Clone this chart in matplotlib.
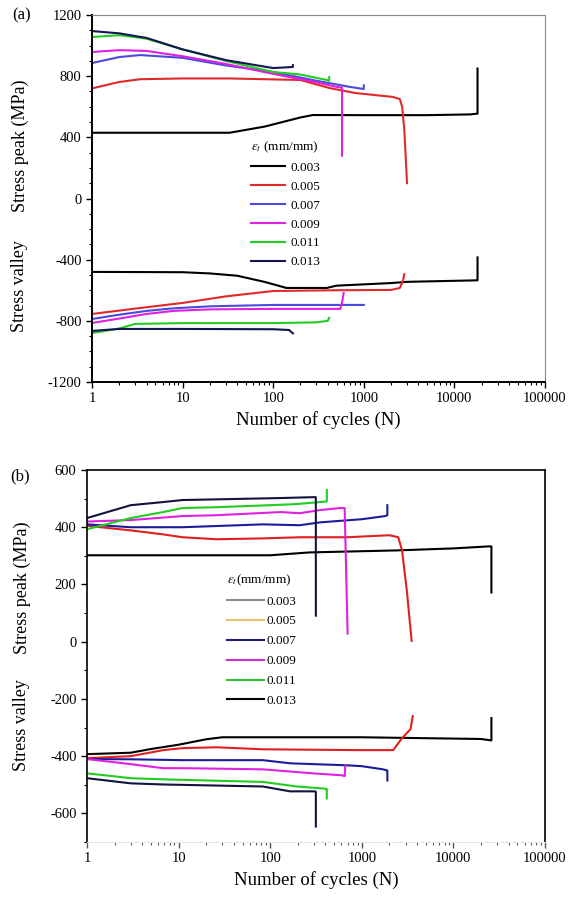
import matplotlib
matplotlib.use("Agg")
import matplotlib.pyplot as plt
from matplotlib.lines import Line2D
from matplotlib.ticker import LogLocator, MultipleLocator, FixedLocator, FixedFormatter, NullFormatter

plt.rcParams['font.family'] = ['Liberation Serif', 'DejaVu Serif']
plt.rcParams['mathtext.fontset'] = 'stix'
plt.rcParams['axes.unicode_minus'] = False

# ---------------- data: panel (a) ----------------
strain_labels = ["0.003", "0.005", "0.007", "0.009", "0.011", "0.013"]

a_N_003 = [1, 10, 33, 80, 200, 275, 1000, 5000, 15000, 18000, 18000]
a_peak_003 = [430, 430, 430, 470, 530, 546, 545, 545, 550, 555, 850]
a_vN_003 = [1, 10, 20, 40, 80, 140, 390, 500, 2000, 3000, 18000, 18000]
a_valley_003 = [-480, -482, -490, -505, -545, -585, -585, -570, -553, -545, -535, -385]

a_N_005 = [1, 2, 3.4, 10, 33, 200, 420, 800, 2100, 2500, 2650, 2800, 3000]
a_peak_005 = [720, 762, 780, 785, 785, 775, 722, 690, 664, 650, 600, 450, 100]
a_vN_005 = [1, 3, 10, 30, 100, 500, 2000, 2500, 2700, 2800]
a_valley_005 = [-755, -720, -683, -640, -605, -600, -598, -585, -540, -495]

a_N_007 = [1, 2, 3.4, 10, 30, 100, 300, 700, 1000, 1000]
a_peak_007 = [886, 925, 938, 920, 870, 827, 770, 730, 716, 740]
a_vN_007 = [1, 2, 4, 8, 20, 100, 1000]
a_valley_007 = [-788, -760, -735, -718, -705, -696, -696]

a_N_009 = [1, 2, 4, 10, 30, 100, 300, 500, 575, 575]
a_peak_009 = [958, 970, 965, 930, 880, 815, 760, 730, 725, 280]
a_vN_009 = [1, 2, 4, 8, 20, 100, 550, 575, 600]
a_valley_009 = [-814, -785, -755, -735, -725, -722, -722, -680, -618]

a_N_011 = [1, 2, 4, 10, 30, 100, 195, 390, 415, 415]
a_peak_011 = [1056, 1068, 1045, 975, 900, 827, 812, 775, 770, 795]
a_vN_011 = [1, 2, 3, 10, 100, 300, 400, 415]
a_valley_011 = [-880, -850, -820, -815, -815, -810, -800, -781]

a_N_013 = [1, 2, 4, 10, 30, 100, 165, 165]
a_peak_013 = [1095, 1080, 1050, 975, 905, 853, 860, 872]
a_vN_013 = [1, 2, 10, 100, 150, 165]
a_valley_013 = [-866, -853, -853, -855, -860, -882]

# ---------------- data: panel (b) ----------------
b_N_003 = [1, 100, 270, 2400, 10000, 24000, 26000, 26000]
b_peak_003 = [302, 302, 312, 319, 326, 333, 333, 172]
b_vN_003 = [1, 3, 5, 10, 20, 30, 1000, 20000, 26000, 26000]
b_valley_003 = [-393, -388, -375, -360, -341, -334, -334, -340, -345, -267]

b_N_005 = [1, 3, 6.8, 11, 26, 83, 210, 690, 2000, 2500, 2750, 3100, 3500]
b_peak_005 = [405, 389, 375, 365, 358, 361, 365, 365, 372, 365, 319, 179, 3]
b_vN_005 = [1, 3, 6.8, 11, 26, 83, 1000, 2200, 2750, 3400, 3600]
b_valley_005 = [-407, -400, -379, -372, -369, -376, -379, -379, -337, -306, -260]

b_N_007 = [1, 3, 11, 83, 210, 350, 1000, 1800, 1900, 1900]
b_peak_007 = [410, 400, 400, 410, 407, 417, 428, 439, 442, 477]
b_vN_007 = [1, 3, 11, 83, 165, 690, 1000, 1700, 1900, 1900]
b_valley_007 = [-410, -411, -414, -414, -425, -432, -435, -446, -450, -485]

b_N_009 = [1, 3, 11, 26, 130, 210, 350, 580, 650, 700]
b_peak_009 = [420, 425, 439, 442, 453, 449, 460, 467, 467, 28]
b_vN_009 = [1, 3, 6.8, 11, 83, 290, 610, 650, 660]
b_valley_009 = [-410, -428, -442, -442, -446, -460, -467, -470, -435]

b_N_011 = [1, 3, 6.8, 11, 26, 100, 195, 350, 415, 415]
b_peak_011 = [393, 432, 453, 467, 470, 477, 481, 488, 490, 530]
b_vN_011 = [1, 3, 6.8, 83, 195, 380, 415, 415]
b_valley_011 = [-460, -477, -481, -490, -506, -513, -515, -548]

b_N_013 = [1, 3, 6.8, 11, 130, 290, 315, 315]
b_peak_013 = [432, 477, 488, 495, 502, 505, 505, 91]
b_vN_013 = [1, 3, 6.8, 83, 165, 310, 315, 315]
b_valley_013 = [-477, -495, -499, -506, -523, -523, -525, -646]

xtick_vals = [1, 10, 100, 1000, 10000, 100000]
xtick_labels = ["1", "10", "100", "1000", "10000", "100000"]

colors_a = ["#000000", "#e02a2a", "#4a4ae0", "#e020e0", "#22cc22", "#141450"]
colors_b = ["#000000", "#e02020", "#1c1c9a", "#e020e0", "#22cc22", "#121240"]
legend_colors_b = ["#8a8a8a", "#e8c070", "#1c1c80", "#d030d0", "#30c030", "#000000"]

W, H = 571, 899
fig = plt.figure(figsize=(W / 100, H / 100), dpi=100)

def ax_rect(l, t, r, b):
    return [l / W, 1 - b / H, (r - l) / W, (b - t) / H]

ax_a = fig.add_axes(ax_rect(92, 15, 545, 382))
ax_b = fig.add_axes(ax_rect(87, 470, 545, 842))

series_a = [
    (a_N_003, a_peak_003, a_vN_003, a_valley_003),
    (a_N_005, a_peak_005, a_vN_005, a_valley_005),
    (a_N_007, a_peak_007, a_vN_007, a_valley_007),
    (a_N_009, a_peak_009, a_vN_009, a_valley_009),
    (a_N_011, a_peak_011, a_vN_011, a_valley_011),
    (a_N_013, a_peak_013, a_vN_013, a_valley_013),
]
series_b = [
    (b_N_003, b_peak_003, b_vN_003, b_valley_003),
    (b_N_005, b_peak_005, b_vN_005, b_valley_005),
    (b_N_007, b_peak_007, b_vN_007, b_valley_007),
    (b_N_009, b_peak_009, b_vN_009, b_valley_009),
    (b_N_011, b_peak_011, b_vN_011, b_valley_011),
    (b_N_013, b_peak_013, b_vN_013, b_valley_013),
]

handles_a = []
for (nP, p, nV, v), c, lab in zip(series_a, colors_a, strain_labels):
    ln, = ax_a.plot(nP, p, color=c, lw=1.5, label=lab)
    ax_a.plot(nV, v, color=c, lw=1.5)
    handles_a.append(ln)

for (nP, p, nV, v), c in zip(series_b, colors_b):
    ax_b.plot(nP, p, color=c, lw=1.5)
    ax_b.plot(nV, v, color=c, lw=1.5)

handles_b = [Line2D([], [], color=c, lw=1.5) for c in legend_colors_b]

for ax in (ax_a, ax_b):
    ax.set_xscale('log')
    ax.set_xlim(1, 100000)
    ax.xaxis.set_major_locator(FixedLocator(xtick_vals))
    ax.xaxis.set_major_formatter(FixedFormatter(xtick_labels))
    ax.xaxis.set_minor_locator(LogLocator(base=10, subs=range(2, 10), numticks=20))
    ax.xaxis.set_minor_formatter(NullFormatter())
    ax.tick_params(axis='both', which='major', direction='out', length=4, width=1,
                   labelsize=10.5, top=False, right=False)
    ax.tick_params(axis='both', which='minor', direction='out', length=2.5, width=0.8,
                   top=False, right=False)
    ax.set_xlabel("Number of cycles (N)", fontsize=13.5, labelpad=4)

ax_a.set_ylim(-1200, 1200)
ax_a.yaxis.set_major_locator(MultipleLocator(400))
ax_a.yaxis.set_minor_locator(MultipleLocator(100))
ax_a.spines['left'].set_linewidth(1.4)
ax_a.spines['bottom'].set_linewidth(1.4)
ax_a.spines['top'].set_color('#888888')
ax_a.spines['right'].set_color('#888888')

ax_b.set_ylim(-700, 600)
ax_b.yaxis.set_major_locator(MultipleLocator(200))
ax_b.yaxis.set_minor_locator(MultipleLocator(100))
ax_b.spines['left'].set_linewidth(1.2)
ax_b.spines['top'].set_linewidth(1.2)
ax_b.spines['right'].set_linewidth(1.2)
ax_b.spines['bottom'].set_color('#e4e4e4')
ax_b.tick_params(axis='x', which='both', color='#555555')

leg_a = ax_a.legend(handles_a, strain_labels, title=r"$\varepsilon_t$ (mm/mm)",
                    loc='upper left', bbox_to_anchor=(0.33, 0.685), frameon=False,
                    fontsize=9.5, title_fontsize=9.5, handlelength=2.6,
                    handletextpad=0.4, labelspacing=0.5, borderpad=0.2)
leg_a._legend_box.align = "left"

leg_b = ax_b.legend(handles_b, strain_labels, title=r"$\varepsilon_t$(mm/mm)",
                    loc='upper left', bbox_to_anchor=(0.285, 0.75), frameon=False,
                    fontsize=9.5, title_fontsize=9.5, handlelength=2.8,
                    handletextpad=0.2, labelspacing=0.58, borderpad=0.2)
leg_b._legend_box.align = "left"

# y labels (two per panel)
fig.text(20 / W, 1 - 146 / H, "Stress peak (MPa)", rotation=90, ha='center', va='center', fontsize=13)
fig.text(20 / W, 1 - 286 / H, "Stress valley", rotation=90, ha='center', va='center', fontsize=13)
fig.text(22 / W, 1 - 588 / H, "Stress peak (MPa)", rotation=90, ha='center', va='center', fontsize=13)
fig.text(22 / W, 1 - 725 / H, "Stress valley", rotation=90, ha='center', va='center', fontsize=13)

fig.text(12 / W, 1 - 15 / H, "(a)", ha='left', va='center', fontsize=12)
fig.text(10 / W, 1 - 476 / H, "(b)", ha='left', va='center', fontsize=12)

fig.savefig("out.png", dpi=100)
